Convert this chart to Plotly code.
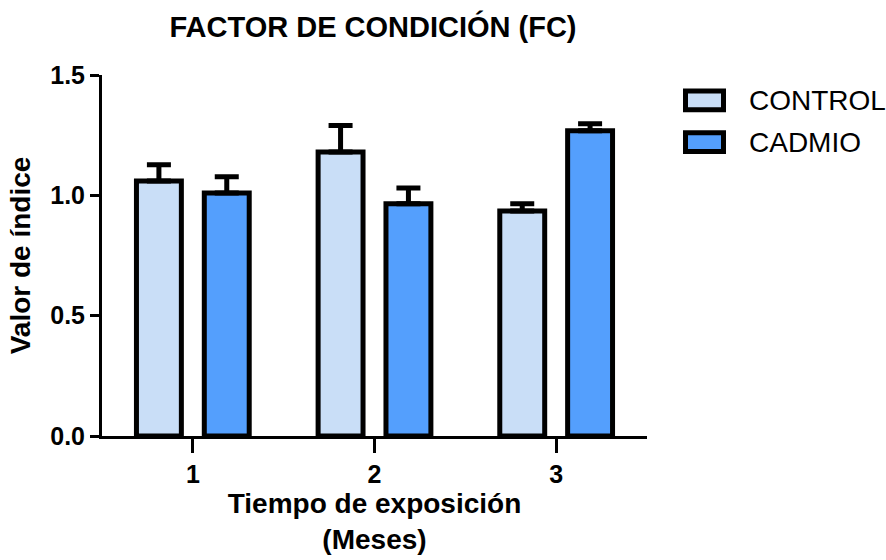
import plotly.graph_objects as go

categories = ["1", "2", "3"]
control_vals = [1.06, 1.18, 0.935]
control_err = [0.067, 0.11, 0.03]
cadmio_vals = [1.01, 0.965, 1.268]
cadmio_err = [0.067, 0.065, 0.029]
series_names = ["CONTROL", "CADMIO"]
colors = ["#C9DEF7", "#549FFD"]
y_ticks = [0.0, 0.5, 1.0, 1.5]

FONT = "Liberation Sans, Arial, sans-serif"

# plot area in pixels
W, H = 886, 560
L, R, T, B = 102, 239, 75, 122
pw, ph = W - L - R, H - T - B

def px(x):
    return (x - L) / pw

def py(y):
    return (H - B - y) / ph

fig = go.Figure()
for name, vals, errs, col in [
    (series_names[0], control_vals, control_err, colors[0]),
    (series_names[1], cadmio_vals, cadmio_err, colors[1]),
]:
    fig.add_trace(go.Bar(
        x=categories, y=vals, name=name,
        marker=dict(color=col, line=dict(color="black", width=5)),
        error_y=dict(type="data", array=errs, arrayminus=[0] * len(errs),
                     symmetric=False, color="black", thickness=5, width=12),
        showlegend=False,
    ))

# legend drawn manually (large swatches like the reference)
legend_y = [100.5, 142.5]
for name, col, yc in zip(series_names, colors, legend_y):
    fig.add_shape(type="rect", xref="paper", yref="paper",
                  x0=px(685.5), x1=px(723.5), y0=py(yc - 9.5), y1=py(yc + 9.5),
                  fillcolor=col, line=dict(color="black", width=5))
    fig.add_annotation(xref="paper", yref="paper", x=px(747), y=py(yc),
                       text=name, showarrow=False, xanchor="left", yanchor="middle",
                       font=dict(family=FONT, size=28, color="black"))

fig.update_layout(
    width=W, height=H,
    margin=dict(l=L, r=R, t=T, b=B),
    paper_bgcolor="white", plot_bgcolor="white",
    barmode="group", bargap=0.253, bargroupgap=0.338,
    title=dict(text="<b>FACTOR DE CONDICIÓN (FC)</b>", x=px(373), xref="paper",
               xanchor="center", y=1 - 27 / H, yref="container", yanchor="middle",
               font=dict(family=FONT, size=29, color="black")),
    font=dict(family=FONT, color="black"),
)
fig.update_xaxes(
    type="category", range=[-0.5, 2.5],
    showline=True, linecolor="black", linewidth=3,
    ticks="outside", ticklen=14, tickwidth=3, tickcolor="black",
    tickfont=dict(family=FONT, size=25, color="black", weight="bold"),
    title=dict(text="<b>Tiempo de exposición<br>(Meses)</b>",
               font=dict(family=FONT, size=28, color="black"), standoff=4),
    showgrid=False, zeroline=False,
)
fig.update_yaxes(
    range=[0, 1.5], tickvals=y_ticks, tickformat=".1f",
    showline=True, linecolor="black", linewidth=3,
    ticks="outside", ticklen=9, tickwidth=3, tickcolor="black",
    tickfont=dict(family=FONT, size=25, color="black", weight="bold"),
    title=dict(text="<b>Valor de índice</b>",
               font=dict(family=FONT, size=28, color="black"), standoff=12),
    showgrid=False, zeroline=False,
)

fig.write_html("out.html")
